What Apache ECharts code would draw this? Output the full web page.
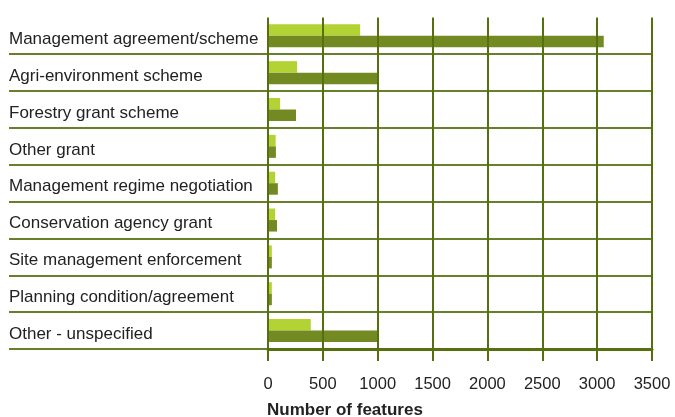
<!DOCTYPE html>
<html>
<head>
<meta charset="utf-8">
<script src="https://cdn.jsdelivr.net/npm/echarts@6/dist/echarts.min.js"></script>
<style>
html,body{margin:0;padding:0;background:#fff;}
#chart{width:675px;height:417px;}
</style>
</head>
<body>
<div id="chart"></div>
<script>
var categories = ['Management agreement/scheme','Agri-environment scheme','Forestry grant scheme','Other grant','Management regime negotiation','Conservation agency grant','Site management enforcement','Planning condition/agreement','Other - unspecified'];
var lightValues = [840, 265, 110, 70, 65, 65, 35, 35, 390];
var darkValues = [3060, 1005, 255, 72, 90, 82, 35, 35, 1005];
var xTicks = {min: 0, max: 3500, interval: 500};
var axisTitle = 'Number of features';

var FONT = '"Liberation Sans", Arial, sans-serif';
var LINE = '#56700f';
var SEP = '#67812a';
var chart = echarts.init(document.getElementById('chart'), null, {renderer: 'canvas'});
var skipFirst = function (i) { return i !== 0; };
chart.setOption({
  animation: false,
  backgroundColor: '#ffffff',
  title: {
    text: axisTitle, left: 262, top: 397,
    textStyle: {fontFamily: FONT, fontSize: 17, fontWeight: 'bold', color: '#222'}
  },
  grid: {left: 268, right: 23, top: 17.4, bottom: 68},
  xAxis: {
    type: 'value', min: xTicks.min, max: xTicks.max, interval: xTicks.interval,
    z: 10,
    axisLine: {show: true, lineStyle: {color: LINE, width: 3}},
    axisTick: {show: true, length: 12, lineStyle: {color: LINE, width: 2}},
    splitLine: {show: true, lineStyle: {color: LINE, width: 2}},
    axisLabel: {margin: 27, fontFamily: FONT, fontSize: 16.5, color: '#222',
      formatter: function (v) { return String(v); }}
  },
  yAxis: {
    type: 'category', inverse: true, data: categories,
    axisLine: {show: false},
    axisTick: {show: true, length: 259, interval: skipFirst, lineStyle: {color: SEP, width: 2}},
    splitLine: {show: true, interval: skipFirst, lineStyle: {color: SEP, width: 2}},
    axisLabel: {align: 'left', verticalAlign: 'top', margin: 259, fontFamily: FONT, fontSize: 17, lineHeight: 17, color: '#222', padding: [-5, 0, 0, 0], interval: 0}
  },
  series: [
    {type: 'bar', data: lightValues, barWidth: 11.5, barGap: '0%', itemStyle: {color: '#b3d334'}},
    {type: 'bar', data: darkValues, barWidth: 11.5, barGap: '0%', itemStyle: {color: '#738a22'}}
  ]
});
</script>
</body>
</html>
